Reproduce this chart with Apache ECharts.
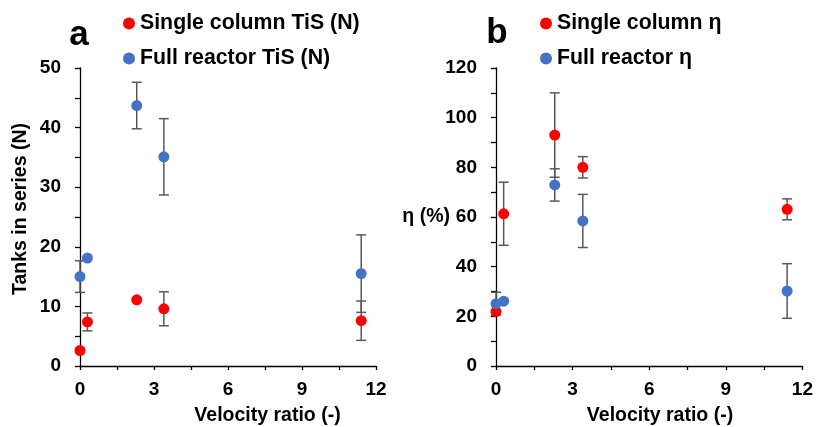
<!DOCTYPE html>
<html>
<head>
<meta charset="utf-8">
<script src="https://cdn.jsdelivr.net/npm/echarts@6/dist/echarts.min.js"></script>
<style>
html,body{margin:0;padding:0;background:#fff;}
#chart{width:816px;height:427px;}
</style>
</head>
<body>
<div id="chart"></div>
<script>
// ---- data ----
const velocityRatio = [0, 0.3, 2.3, 3.4, 11.4];
const singleTiS    = [2.6, 7.4, 11.1, 9.6, 7.6];
const singleTiSErr = [0, 1.5, 0, 2.85, 3.3];
const fullTiS      = [15.0, 18.1, 43.7, 35.1, 15.5];
const fullTiSErr   = [2.65, 0, 3.9, 6.4, 6.5];
const singleEta    = [21.9, 61.3, 93.0, 80.0, 63.1];
const singleEtaErr = [0, 12.7, 17.0, 4.3, 4.2];
const fullEta      = [25.1, 26.1, 72.9, 58.4, 30.2];
const fullEtaErr   = [4.6, 0, 6.5, 10.7, 11.0];
const xTicks = { min: 0, max: 12, interval: 3 };
const yTicksA = { min: 0, max: 50, interval: 10 };
const yTicksB = { min: 0, max: 120, interval: 20 };
const names = {
  sA: 'Single column TiS (N)', fA: 'Full reactor TiS (N)',
  sB: 'Single column η', fB: 'Full reactor η'
};

const RED = '#FF0000', BLUE = '#4472C4', ERR = '#595959';
const FONT = '"Liberation Sans", Arial, sans-serif';

function pts(ys) { return velocityRatio.map((x, i) => [x, ys[i]]); }
function errPts(ys, es) {
  return velocityRatio.map((x, i) => [x, ys[i], es[i]]).filter(d => d[2] > 0);
}
function errRender(params, api) {
  const x = api.value(0), y = api.value(1), e = api.value(2);
  const t = api.coord([x, y + e]), b = api.coord([x, y - e]);
  const h = 5;
  const st = { stroke: ERR, lineWidth: 1.5 };
  return {
    type: 'group',
    children: [
      { type: 'line', shape: { x1: t[0], y1: t[1], x2: b[0], y2: b[1] }, style: st },
      { type: 'line', shape: { x1: t[0] - h, y1: t[1], x2: t[0] + h, y2: t[1] }, style: st },
      { type: 'line', shape: { x1: b[0] - h, y1: b[1], x2: b[0] + h, y2: b[1] }, style: st }
    ]
  };
}
function xAxis(gi) {
  return {
    type: 'value', gridIndex: gi, min: xTicks.min, max: xTicks.max, interval: xTicks.interval,
    axisLine: { show: true, lineStyle: { color: '#000', width: 1.3 } },
    axisTick: { show: true, length: 4, lineStyle: { color: '#000', width: 1.3 } },
    minorTick: { show: true, splitNumber: 2, length: 4, lineStyle: { color: '#000', width: 1.3 } },
    splitLine: { show: false },
    axisLabel: { color: '#000', fontFamily: FONT, fontWeight: 'bold', fontSize: 19, margin: 14 }
  };
}
function yAxis(gi, t) {
  return {
    type: 'value', gridIndex: gi, min: t.min, max: t.max, interval: t.interval,
    axisLine: { show: true, lineStyle: { color: '#000', width: 1.3 } },
    axisTick: { show: true, length: 5, lineStyle: { color: '#000', width: 1.3 } },
    minorTick: { show: true, splitNumber: 2, length: 5, lineStyle: { color: '#000', width: 1.3 } },
    splitLine: { show: false },
    axisLabel: { color: '#000', fontFamily: FONT, fontWeight: 'bold', fontSize: 19, margin: 19 }
  };
}
function scatter(name, ys, color, xi) {
  return { name, type: 'scatter', xAxisIndex: xi, yAxisIndex: xi, data: pts(ys),
    symbol: 'circle', symbolSize: 11, itemStyle: { color, opacity: 1 }, z: 5 };
}
function errSeries(ys, es, xi) {
  return { type: 'custom', xAxisIndex: xi, yAxisIndex: xi, data: errPts(ys, es),
    renderItem: errRender, z: 3, silent: true, encode: { x: 0, y: 1 } };
}
function legend(left, data) {
  return {
    left, top: 13, orient: 'vertical', padding: 0, itemGap: 14,
    itemWidth: 12, itemHeight: 12, icon: 'circle', data,
    itemStyle: { opacity: 1 },
    textStyle: { color: '#000', fontFamily: FONT, fontWeight: 'bold', fontSize: 21.3 }
  };
}
function txt(x, y, text, size, align, rot) {
  return { type: 'text', x, y, rotation: rot || 0, style: {
    text, fill: '#000', font: 'bold ' + size + 'px ' + FONT,
    align: align || 'center', verticalAlign: 'middle' } };
}

const chart = echarts.init(document.getElementById('chart'), null, { renderer: 'canvas' });
chart.setOption({
  backgroundColor: '#fff',
  animation: false,
  grid: [
    { left: 80, top: 68, width: 296, height: 298 },
    { left: 496, top: 68, width: 308, height: 298 }
  ],
  xAxis: [xAxis(0), xAxis(1)],
  yAxis: [yAxis(0, yTicksA), yAxis(1, yTicksB)],
  legend: [legend(123, [names.sA, names.fA]), legend(540, [names.sB, names.fB])],
  series: [
    errSeries(singleTiS, singleTiSErr, 0),
    errSeries(fullTiS, fullTiSErr, 0),
    scatter(names.sA, singleTiS, RED, 0),
    scatter(names.fA, fullTiS, BLUE, 0),
    errSeries(singleEta, singleEtaErr, 1),
    errSeries(fullEta, fullEtaErr, 1),
    scatter(names.sB, singleEta, RED, 1),
    scatter(names.fB, fullEta, BLUE, 1)
  ],
  graphic: [
    txt(79, 35, 'a', 35),
    txt(497, 33, 'b', 35),
    txt(20.5, 209, 'Tanks in series (N)', 19.5, 'center', Math.PI / 2),
    txt(450, 217, 'η (%)', 19.5, 'right'),
    txt(267.5, 416, 'Velocity ratio (-)', 19.5),
    txt(660, 416, 'Velocity ratio (-)', 19.5)
  ]
});
</script>
</body>
</html>
